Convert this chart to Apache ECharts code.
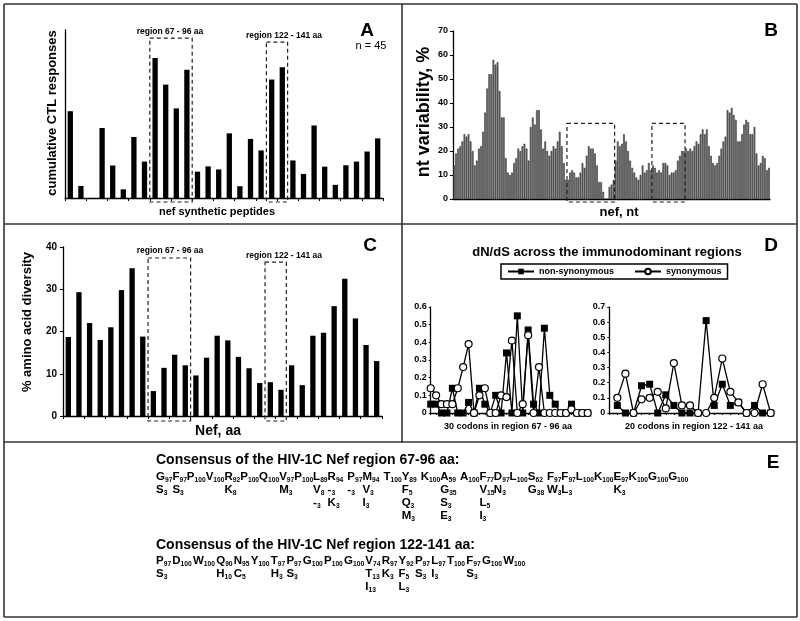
<!DOCTYPE html>
<html><head><meta charset="utf-8">
<script src="https://cdn.jsdelivr.net/npm/echarts@6/dist/echarts.min.js"></script>
<style>html,body{margin:0;padding:0;background:#fff}#c{width:800px;height:621px}</style>
</head><body><div id="c"></div>
<script>
const FONT = '"Liberation Sans", Arial, sans-serif';

// ---------- Panel A: cumulative CTL responses per synthetic peptide ----------
const ctlResponses = [31,4.3,0,25,11.6,3.1,21.8,13,50,40.5,32,45.8,9.4,11.3,10.2,23.1,4.2,21.1,17,42.3,46.7,13.4,8.6,25.9,11.2,4.7,11.7,13,16.6,21.3];
const regionBoxesA = [[8, 11, 57.1], [19, 20, 55.7]];   // [first cat, last cat, top value]

// ---------- Panel B: nt variability, % ----------
const ntVariability = [14,19,21,22,24,27,26,27,24,20,14,16,21,22,28,36,46,52,52,58,
 56,57,45,34,34,17,11,10,11,15,17,21,20,22,23,21,16,30,34,31,37,37,29,21,24,20,18,20,22,21,24,28,22,15,
 8,8,11,12,11,9,9,11,15,13,18,22,21,21,19,14,
 7,7,3,0,0,5,6,8,16,24,22,23,27,24,20,16,13,11,9,8,10,14,11,12,
 15,12,
 14,13,11,12,11,15,15,14,10,11,11,12,16,18,20,20,
 21,20,21,20,22,24,23,27,29,27,29,22,18,15,14,15,18,21,24,26,37,36,38,35,33,24,24,27,31,33,32,27,27,30,19,14,15,18,17,12,13];
const regionBoxesB = [[55, 77, 31.5], [96, 111, 31.5]];
const bTicks = [0,10,20,30,40,50,60,70];

// ---------- Panel C: % amino acid diversity ----------
const aaDiversity = [18.7,29.3,22,18,21,29.8,35,18.8,5.9,11.4,14.5,12,9.6,13.8,19,17.9,14,11.3,7.8,8,6.2,12,7.3,19,19.7,26,32.5,23.1,16.8,13];
const regionBoxesC = [[8, 11, 37.4], [19, 20, 36.4]];

// ---------- Panel D: dN/dS ----------
const codons1 = [1,2,3,4,5,6,7,8,9,10,11,12,13,14,15,16,17,18,19,20,21,22,23,24,25,26,27,28,29,30];
const nonSyn1 = [0.05,0.05,0,0,0.14,0,0,0.06,0,0.14,0.05,0,0.10,0,0.34,0,0.55,0,0.47,0.05,0,0.48,0.10,0.05,0,0,0.05,0,0,0];
const syn1    = [0.14,0.10,0.05,0.05,0.05,0.14,0.26,0.39,0,0.10,0.14,0,0,0.10,0.09,0.41,0,0.05,0.44,0,0.26,0,0,0,0,0,0.02,0,0,0];
const codons2 = [1,2,3,4,5,6,7,8,9,10,11,12,13,14,15,16,17,18,19,20];
const nonSyn2 = [0.05,0,0,0.18,0.19,0,0.12,0.05,0,0,0,0.61,0.05,0.19,0.05,0.07,0,0.05,0,0];
const syn2    = [0.10,0.26,0,0.09,0.10,0.14,0.03,0.33,0.05,0.05,0,0,0.10,0.36,0.14,0.07,0,0,0.19,0];

// ---------- Panel E: consensus sequences ----------
const region1 = [['G',97],['F',97],['P',100],['V',100],['R',92],['P',100],['Q',100],['V',97],['P',100],['L',89],['R',94],['P',97],['M',94],['T',100],['Y',89],['K',100],['A',59],['A',100],['F',77],['D',97],['L',100],['S',62],['F',97],['F',97],['L',100],['K',100],['E',97],['K',100],['G',100],['G',100]];
const region1Spaces = [10,12,14,16,21];
const region1Variants = [[0,1,'S',3],[1,1,'S',3],[4,1,'K',8],[7,1,'M',3],[9,1,'V',8],[10,1,'-',3],[11,1,'-',3],[12,1,'V',3],[14,1,'F',5],[16,1,'G',35],[18,1,'V',15],[19,1,'N',3],[21,1,'G',38],[22,1,'W',3],[23,1,'L',3],[26,1,'K',3],
 [9,2,'-',3],[10,2,'K',3],[12,2,'I',3],[14,2,'Q',3],[16,2,'S',3],[18,2,'L',5],
 [14,3,'M',3],[16,3,'E',3],[18,3,'I',3]];
const region2 = [['P',97],['D',100],['W',100],['Q',90],['N',95],['Y',100],['T',97],['P',97],['G',100],['P',100],['G',100],['V',74],['R',97],['Y',92],['P',97],['L',97],['T',100],['F',97],['G',100],['W',100]];
const region2Variants = [[0,1,'S',3],[3,1,'H',10],[4,1,'C',5],[6,1,'H',3],[7,1,'S',3],[11,1,'T',13],[12,1,'K',3],[13,1,'F',5],[14,1,'S',3],[15,1,'I',3],[17,1,'S',3],
 [11,2,'I',13],[13,2,'L',3]];

const catsA = ctlResponses.map((_, i) => String(i + 1));
const catsB = ntVariability.map((_, i) => String(i + 1));

const chart = echarts.init(document.getElementById('c'));

const axisLineBlack = {show: true, lineStyle: {color: '#000', width: 1.3}};
const lblStyle = (s) => ({fontFamily: FONT, fontWeight: 'bold', fontSize: s, color: '#000'});

chart.setOption({
  backgroundColor: '#fff',
  animation: false,
  grid: [
    {left: 65, top: 30, width: 318, height: 168},
    {left: 453, top: 31, width: 317, height: 168},
    {left: 63, top: 247, width: 319, height: 169},
    {left: 430.7, top: 307, width: 157, height: 106},
    {left: 609.3, top: 307, width: 161.4, height: 106}
  ],
  xAxis: [
    {type: 'category', gridIndex: 0, data: catsA, axisLine: axisLineBlack, axisTick: {show: true, length: 3, lineStyle: {color: '#000'}}, axisLabel: {show: false}},
    {type: 'category', gridIndex: 1, data: catsB, axisLine: axisLineBlack, axisTick: {show: false}, axisLabel: {show: false}},
    {type: 'category', gridIndex: 2, data: catsA, axisLine: axisLineBlack, axisTick: {show: true, length: 3, lineStyle: {color: '#000'}}, axisLabel: {show: false}},
    {type: 'value', gridIndex: 3, min: 1, max: 30, interval: 1, axisLine: axisLineBlack, axisTick: {show: true, length: 2, lineStyle: {color: '#000'}}, axisLabel: {show: false}, splitLine: {show: false}},
    {type: 'value', gridIndex: 4, min: 0, max: 20, interval: 1, axisLine: axisLineBlack, axisTick: {show: true, length: 2, lineStyle: {color: '#000'}}, axisLabel: {show: false}, splitLine: {show: false}}
  ],
  yAxis: [
    {type: 'value', gridIndex: 0, min: 0, max: 60, axisLine: axisLineBlack, axisTick: {show: false}, axisLabel: {show: false}, splitLine: {show: false}},
    {type: 'value', gridIndex: 1, min: bTicks[0], max: bTicks[bTicks.length - 1], interval: 10, axisLine: axisLineBlack, axisTick: {show: true, length: 3, lineStyle: {color: '#000'}}, axisLabel: Object.assign({margin: 5}, lblStyle(9)), splitLine: {show: false}},
    {type: 'value', gridIndex: 2, min: 0, max: 40, interval: 10, axisLine: axisLineBlack, axisTick: {show: true, length: 3, lineStyle: {color: '#000'}}, axisLabel: Object.assign({margin: 6}, lblStyle(10)), splitLine: {show: false}},
    {type: 'value', gridIndex: 3, min: 0, max: 0.6, interval: 0.1, axisLine: axisLineBlack, axisTick: {show: true, length: 2, lineStyle: {color: '#000'}}, axisLabel: Object.assign({margin: 4}, lblStyle(9)), splitLine: {show: false}},
    {type: 'value', gridIndex: 4, min: 0, max: 0.7, interval: 0.1, axisLine: axisLineBlack, axisTick: {show: true, length: 2, lineStyle: {color: '#000'}}, axisLabel: Object.assign({margin: 4}, lblStyle(9)), splitLine: {show: false}}
  ],
  legend: {
    data: ['non-synonymous', 'synonymous'],
    left: 501, top: 264, itemWidth: 26, itemHeight: 7, itemGap: 20,
    padding: [3, 6, 3, 6], borderColor: '#000', borderWidth: 1.5,
    textStyle: lblStyle(9)
  },
  series: [
    {type: 'bar', xAxisIndex: 0, yAxisIndex: 0, data: ctlResponses, barWidth: '50%', itemStyle: {color: '#000'}},
    {type: 'bar', xAxisIndex: 1, yAxisIndex: 1, data: ntVariability, barCategoryGap: '20%', itemStyle: {color: '#7e7e7e', borderColor: '#111', borderWidth: 0.5}},
    {type: 'bar', xAxisIndex: 2, yAxisIndex: 2, data: aaDiversity, barWidth: '50%', itemStyle: {color: '#000'}},
    {name: 'non-synonymous', type: 'line', xAxisIndex: 3, yAxisIndex: 3, data: codons1.map((c, i) => [c, nonSyn1[i]]), symbol: 'rect', symbolSize: 7, lineStyle: {color: '#000', width: 1.3}, itemStyle: {color: '#000'}},
    {name: 'synonymous', type: 'line', xAxisIndex: 3, yAxisIndex: 3, data: codons1.map((c, i) => [c, syn1[i]]), symbol: 'circle', symbolSize: 7, showAllSymbol: true, lineStyle: {color: '#000', width: 1.3}, itemStyle: {color: '#fff', borderColor: '#000', borderWidth: 1.2}},
    {name: 'non-synonymous', type: 'line', xAxisIndex: 4, yAxisIndex: 4, data: codons2.map((c, i) => [c, nonSyn2[i]]), symbol: 'rect', symbolSize: 7, lineStyle: {color: '#000', width: 1.3}, itemStyle: {color: '#000'}},
    {name: 'synonymous', type: 'line', xAxisIndex: 4, yAxisIndex: 4, data: codons2.map((c, i) => [c, syn2[i]]), symbol: 'circle', symbolSize: 7, showAllSymbol: true, lineStyle: {color: '#000', width: 1.3}, itemStyle: {color: '#fff', borderColor: '#000', borderWidth: 1.2}}
  ]
});

// ---------- graphics: frame, labels, dashed boxes, panel E ----------
const G = [];
function txt(x, y, text, size, o) {
  o = o || {};
  return {type: 'text', x: x, y: y, rotation: o.rot || 0, z: 100,
    style: {text: text, fill: '#000', font: (o.weight || 'bold') + ' ' + size + 'px ' + FONT,
      align: o.align || 'center', verticalAlign: o.va || 'middle'}};
}
function line(x1, y1, x2, y2) {
  G.push({type: 'line', z: 90, shape: {x1: x1, y1: y1, x2: x2, y2: y2}, style: {stroke: '#333', lineWidth: 1.6}});
}
// frame
line(4, 4, 797, 4); line(4, 617, 797, 617); line(4, 4, 4, 617); line(797, 4, 797, 617);
line(4, 224, 797, 224); line(4, 442, 797, 442); line(402, 4, 402, 442);

// panel letters
G.push(txt(367, 31, 'A', 19)); G.push(txt(771, 31, 'B', 19));
G.push(txt(370, 246, 'C', 19)); G.push(txt(771, 246, 'D', 19)); G.push(txt(773, 463, 'E', 19));
G.push(txt(371, 46, 'n = 45', 11, {weight: 'normal'}));

// axis names
G.push(txt(52, 113, 'cumulative CTL responses', 13, {rot: Math.PI / 2}));
G.push(txt(217, 212, 'nef synthetic peptides', 11));
G.push(txt(424, 112, 'nt variability, %', 18, {rot: Math.PI / 2}));
G.push(txt(619, 212, 'nef, nt', 13));
G.push(txt(27, 322, '% amino acid diversity', 13, {rot: Math.PI / 2}));
G.push(txt(218, 431, 'Nef, aa', 14));
G.push(txt(607, 252, 'dN/dS across the immunodominant regions', 13));
G.push(txt(508, 427, '30 codons in region 67 - 96 aa', 9));
G.push(txt(694, 427, '20 codons in region 122 - 141 aa', 9));

// region labels
G.push(txt(170, 32, 'region 67 - 96 aa', 8.5)); G.push(txt(284, 36, 'region 122 - 141 aa', 8.5));
G.push(txt(170, 251, 'region 67 - 96 aa', 8.5)); G.push(txt(284, 256, 'region 122 - 141 aa', 8.5));

// dashed boxes through the axes
function boxes(list, xi, yi, below) {
  list.forEach(function (b) {
    const c0 = chart.convertToPixel({xAxisIndex: xi}, b[0]);
    const c1 = chart.convertToPixel({xAxisIndex: xi}, b[1]);
    const w = chart.convertToPixel({xAxisIndex: xi}, b[0] + 1) - c0;
    const yTop = chart.convertToPixel({yAxisIndex: yi}, b[2]);
    const yBase = chart.convertToPixel({yAxisIndex: yi}, 0) + below;
    G.push({type: 'rect', z: 95, shape: {x: c0 - w / 2, y: yTop, width: c1 - c0 + w, height: yBase - yTop},
      style: {fill: 'none', stroke: '#222', lineWidth: 1.2, lineDash: [4, 3]}});
  });
}
boxes(regionBoxesA, 0, 0, 4);
boxes(regionBoxesB, 1, 1, 3);
boxes(regionBoxesC, 2, 2, 5);

// panel E
const MAIN = 11.5, SUB = 6.7;
const mctx = document.createElement('canvas').getContext('2d');
function tw(t, s) { mctx.font = 'bold ' + s + 'px ' + FONT; return mctx.measureText(t).width; }
function residue(x, y, aa, pct) {
  G.push(txt(x, y, aa, MAIN, {align: 'left'}));
  G.push(txt(x + tw(aa, MAIN), y + 3.5, String(pct), SUB, {align: 'left'}));
}
function drawRegion(res, spaces, gap, bigGap, x0, rowYs, variants) {
  const xs = []; let x = x0;
  res.forEach(function (r, i) {
    xs.push(x);
    residue(x, rowYs[0], r[0], r[1]);
    x += tw(r[0], MAIN) + tw(String(r[1]), SUB) + (spaces.indexOf(i) >= 0 ? bigGap : gap);
  });
  variants.forEach(function (v) { residue(xs[v[0]], rowYs[v[1]], v[2], v[3]); });
}
G.push(txt(156, 460, 'Consensus of the HIV-1C Nef region 67-96 aa:', 14, {align: 'left'}));
drawRegion(region1, region1Spaces, 0, 4, 156, [477, 490, 503, 516], region1Variants);
G.push(txt(156, 545, 'Consensus of the HIV-1C Nef region 122-141 aa:', 14, {align: 'left'}));
drawRegion(region2, [], 1.2, 1.2, 156, [561, 574, 587], region2Variants);

chart.setOption({graphic: {elements: G}});
</script></body></html>
